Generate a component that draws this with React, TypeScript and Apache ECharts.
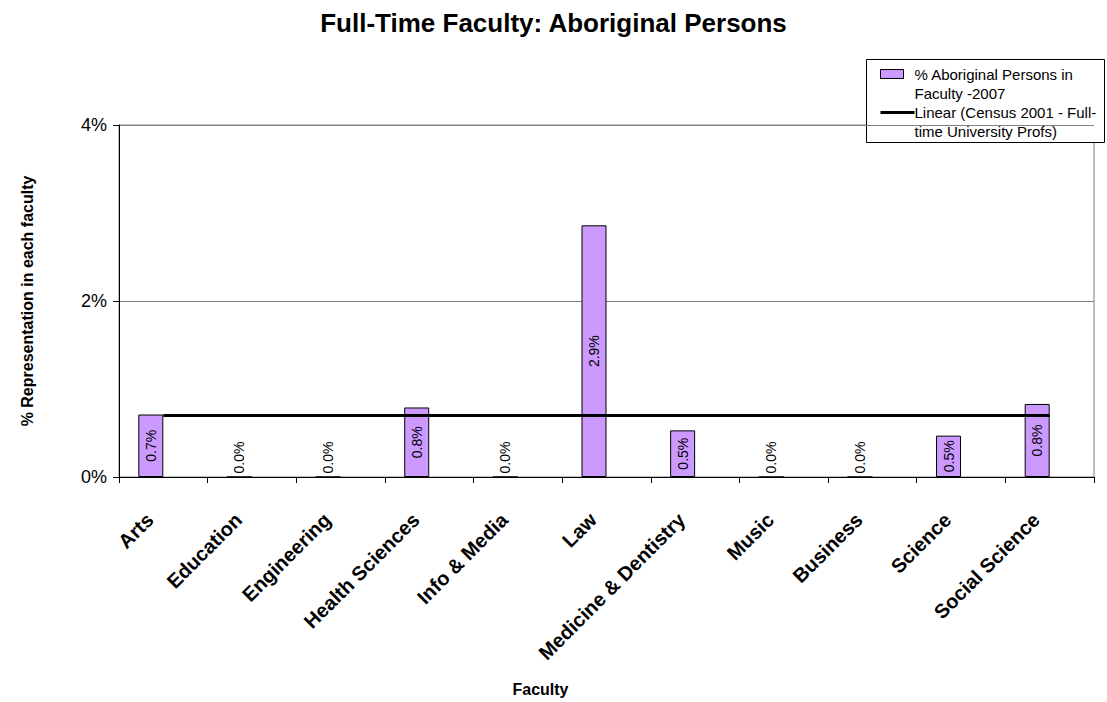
import React, { useEffect, useRef } from "react";
import * as echarts from "echarts";

const categories = [
  "Arts",
  "Education",
  "Engineering",
  "Health Sciences",
  "Info & Media",
  "Law",
  "Medicine & Dentistry",
  "Music",
  "Business",
  "Science",
  "Social Science",
];

// % Aboriginal Persons in Faculty - 2007
const facultyPct = [0.71, 0.0, 0.0, 0.79, 0.0, 2.86, 0.53, 0.0, 0.0, 0.47, 0.83];
// Census 2001 - Full-time University Profs (linear trend)
const censusPct = [0.7, 0.7, 0.7, 0.7, 0.7, 0.7, 0.7, 0.7, 0.7, 0.7, 0.7];

const yTicks = { min: 0, max: 4, interval: 2 };

const barName = "% Aboriginal Persons in Faculty -2007";
const lineName = "Linear (Census 2001 - Full-time University Profs)";

const FONT = "Arial, 'Liberation Sans', sans-serif";

export default function App() {
  const ref = useRef<HTMLDivElement>(null);

  useEffect(() => {
    if (!ref.current) return;
    const chart = echarts.init(ref.current, undefined, { renderer: "svg" });

    const barData = facultyPct.map((v) =>
      v === 0
        ? {
            value: v,
            label: {
              position: "insideBottom",
              align: "left",
              verticalAlign: "middle",
              distance: 4,
            },
          }
        : v
    );

    chart.setOption({
      animation: false,
      backgroundColor: "#ffffff",
      title: {
        text: "Full-Time Faculty: Aboriginal Persons",
        left: "center",
        top: 5,
        textStyle: { fontFamily: FONT, fontSize: 26, fontWeight: "bold", color: "#000" },
      },
      legend: { show: false },
      grid: {
        left: 119,
        right: 13,
        top: 125,
        bottom: 223,
        show: true,
        borderColor: "#808080",
        borderWidth: 1,
        backgroundColor: "transparent",
      },
      xAxis: {
        type: "category",
        data: categories,
        name: "Faculty",
        nameLocation: "middle",
        nameGap: 204,
        nameTextStyle: {
          fontFamily: FONT,
          fontSize: 16,
          fontWeight: "bold",
          color: "#000",
          padding: [0, 132, 0, 0],
        },
        axisLine: { show: true, lineStyle: { color: "#000", width: 1 } },
        axisTick: { show: true, interval: 0, length: 6, lineStyle: { color: "#000" } },
        axisLabel: {
          interval: 0,
          rotate: 45,
          margin: 26,
          padding: [0, 19, 0, 0],
          fontFamily: FONT,
          fontSize: 20,
          fontWeight: "bold",
          color: "#000",
        },
        splitLine: { show: false },
      },
      yAxis: {
        type: "value",
        min: yTicks.min,
        max: yTicks.max,
        interval: yTicks.interval,
        name: "% Representation in each faculty",
        nameLocation: "middle",
        nameRotate: 90,
        nameGap: 84,
        nameTextStyle: { fontFamily: FONT, fontSize: 16, fontWeight: "bold", color: "#000" },
        axisLine: { show: true, lineStyle: { color: "#000", width: 1 } },
        axisTick: { show: true, length: 6, lineStyle: { color: "#000" } },
        axisLabel: {
          formatter: "{value}%",
          margin: 12,
          fontFamily: FONT,
          fontSize: 18,
          color: "#000",
        },
        splitLine: { show: true, lineStyle: { color: "#808080", width: 1 } },
      },
      series: [
        {
          name: barName,
          type: "bar",
          data: barData,
          barWidth: 25,
          barGap: "0%",
          itemStyle: { color: "#CC99FF", borderColor: "#000", borderWidth: 1 },
          label: {
            show: true,
            position: "inside",
            rotate: 90,
            align: "center",
            verticalAlign: "middle",
            formatter: (p: any) => Number(p.value).toFixed(1) + "%",
            fontFamily: FONT,
            fontSize: 14,
            color: "#000",
          },
          z: 2,
        },
        {
          name: "",
          type: "bar",
          data: categories.map(() => null),
          barWidth: 25,
          barGap: "0%",
          silent: true,
          z: 2,
        },
        {
          name: lineName,
          type: "line",
          data: censusPct,
          showSymbol: false,
          symbol: "none",
          lineStyle: { color: "#000", width: 3 },
          z: 5,
        },
      ],
      graphic: [
        {
          type: "group",
          left: 866,
          top: 59,
          z: 100,
          children: [
            {
              type: "rect",
              shape: { x: 0, y: 0, width: 238, height: 83 },
              style: { fill: "#fff", stroke: "#000", lineWidth: 1 },
            },
            {
              type: "rect",
              shape: { x: 14, y: 10, width: 23, height: 9 },
              style: { fill: "#CC99FF", stroke: "#000", lineWidth: 1 },
            },
            {
              type: "text",
              x: 48,
              y: 5,
              style: {
                text: "% Aboriginal Persons in\nFaculty -2007",
                font: "15px " + FONT,
                fill: "#000",
                lineHeight: 19,
              },
            },
            {
              type: "line",
              shape: { x1: 14, y1: 53, x2: 48, y2: 53 },
              style: { stroke: "#000", lineWidth: 3 },
            },
            {
              type: "text",
              x: 48,
              y: 43,
              style: {
                text: "Linear (Census 2001 - Full-\ntime University Profs)",
                font: "15px " + FONT,
                fill: "#000",
                lineHeight: 19,
              },
            },
          ],
        },
      ],
    });
    return () => chart.dispose();
  }, []);

  return (
    <div
      ref={ref}
      style={{ position: "fixed", left: 0, top: 0, width: 1107, height: 702, background: "#fff" }}
    />
  );
}
